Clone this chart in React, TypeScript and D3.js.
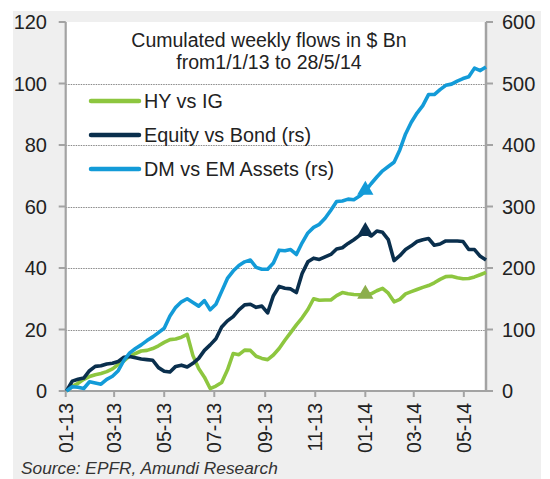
import * as d3 from "d3";
import { useEffect, useRef } from "react";

// weekly EPFR dates: first Wednesday of 2013, one point per week
const startWeek = new Date(2013, 0, 2);

const hyVsIg = [
  0, 1.5, 2.5, 3.8, 4.7, 5.3, 5.7, 6.3, 7.2, 8.6, 9.8, 11.4, 12.2, 13, 13.2,
  13.8, 14.7, 15.8, 16.7, 16.9, 17.5, 18.4, 11.5, 7.3, 4.5, 0.8, 1.6, 2.8, 6.8,
  12.2, 11.8, 13.3, 13.2, 11.3, 10.6, 10.2, 11.7, 13.8, 16.5, 19, 21.5, 23.8,
  26.5, 30, 29.5, 29.6, 29.6, 31, 32, 31.6, 31.4, 31.3, 31.2, 31.6, 32.6, 33.4,
  31.8, 29, 29.8, 31.6, 32.3, 33, 33.7, 34.3, 35.2, 36.3, 37.2, 37.3, 36.8,
  36.5, 36.6, 37.1, 37.8, 38.6,
];

const equityVsBond = [
  0, 16, 19, 21, 33, 40, 41, 44, 45, 48, 55, 56, 54, 52, 51, 50, 38, 32, 31, 40,
  42, 39, 45, 53, 66, 75, 85, 104, 114, 121, 132, 140, 141, 136, 138, 127, 155,
  170, 167, 166, 160, 191, 210, 216, 214, 218, 222, 231, 233, 240, 246, 253,
  258, 252, 260, 258, 246, 212, 220, 230, 236, 243, 246, 248, 237, 239, 244,
  244, 244, 243, 230, 230, 219, 213,
];

const dmVsEm = [
  0, 7, 6, 4, 15, 13, 11, 19, 24, 33, 50, 62, 69, 75, 82, 88, 95, 102, 122, 136,
  145, 150, 144, 138, 147, 132, 141, 162, 183, 195, 204, 210, 213, 201, 198, 198,
  208, 229, 228, 230, 222, 241, 257, 266, 271, 281, 294, 308, 309, 312, 311, 317,
  325, 337, 348, 358, 365, 372, 392, 418, 437, 452, 464, 482, 482, 490, 497, 499,
  504, 508, 511, 525, 521, 527,
];

const markerWeek = 52; // 1/1/14

const leftTicks = [0, 20, 40, 60, 80, 100, 120];
const rightTicks = [0, 100, 200, 300, 400, 500, 600];
const monthTicks = [
  "2013-01-01", "2013-03-01", "2013-05-01", "2013-07-01", "2013-09-01",
  "2013-11-01", "2014-01-01", "2014-03-01", "2014-05-01",
];

const seriesNames = ["HY vs IG", "Equity vs Bond (rs)", "DM vs EM Assets (rs)"];
const seriesColors = ["#8dc63f", "#0a2f4d", "#139bd8"];
const markerColors = ["#8cae4c", "#0a2f4d", "#139bd8"];

const App = () => {
  const svgRef = useRef<SVGSVGElement>(null);
  const width = 550;
  const height = 479;

  useEffect(() => {
    const margin = { top: 22, left: 65.7, right: 64, bottom: 88 };
    const svg = d3.select(svgRef.current);
    svg.selectAll("*").remove();

    const font = "Liberation Sans, Arial, sans-serif";
    const parse = d3.timeParse("%Y-%m-%d");

    // background panel
    svg.append("rect").attr("width", width).attr("height", height).attr("fill", "#fff");
    svg
      .append("rect")
      .attr("x", 13)
      .attr("y", 11)
      .attr("width", 528)
      .attr("height", height)
      .attr("fill", "#efefef");

    const x = d3
      .scaleTime()
      .domain([new Date(2013, 0, 1), new Date(2014, 4, 28)])
      .range([margin.left, width - margin.right]);
    const yL = d3.scaleLinear().domain([0, 120]).range([height - margin.bottom, margin.top]);
    const yR = d3.scaleLinear().domain([0, 600]).range([height - margin.bottom, margin.top]);

    const x0 = margin.left;
    const x1 = width - margin.right;
    const y0 = height - margin.bottom;

    svg
      .append("rect")
      .attr("x", x0)
      .attr("y", margin.top)
      .attr("width", x1 - x0)
      .attr("height", y0 - margin.top)
      .attr("fill", "#fff");

    // grid
    svg
      .selectAll(".grid")
      .data(leftTicks.filter((d) => d > 0 && d < 120))
      .join("line")
      .attr("x1", x0)
      .attr("x2", x1)
      .attr("y1", (d) => Math.round(yL(d)) + 0.5)
      .attr("y2", (d) => Math.round(yL(d)) + 0.5)
      .attr("stroke", "#8a8a8a")
      .attr("stroke-width", 1)
      .attr("stroke-dasharray", "1.5,1");

    const axisColor = "#a3a3a3";
    // axis lines
    svg.append("line").attr("x1", x0).attr("x2", x0).attr("y1", margin.top).attr("y2", y0)
      .attr("stroke", axisColor).attr("stroke-width", 2.2);
    svg.append("line").attr("x1", x1).attr("x2", x1).attr("y1", margin.top).attr("y2", y0)
      .attr("stroke", axisColor).attr("stroke-width", 2.5);
    svg.append("line").attr("x1", x0).attr("x2", x1).attr("y1", y0).attr("y2", y0)
      .attr("stroke", axisColor).attr("stroke-width", 2.2);

    // left ticks + labels
    svg.selectAll(".lt").data(leftTicks).join("line")
      .attr("x1", x0 - 7).attr("x2", x0)
      .attr("y1", (d) => yL(d)).attr("y2", (d) => yL(d))
      .attr("stroke", axisColor).attr("stroke-width", 2);
    svg.selectAll(".ll").data(leftTicks).join("text")
      .attr("x", 47).attr("y", (d) => yL(d)).attr("dy", "0.36em")
      .attr("text-anchor", "end").attr("font-family", font).attr("font-size", 20)
      .attr("fill", "#222").text((d) => d);

    // right ticks + labels
    svg.selectAll(".rt").data(rightTicks).join("line")
      .attr("x1", x1).attr("x2", x1 + 7)
      .attr("y1", (d) => yR(d)).attr("y2", (d) => yR(d))
      .attr("stroke", axisColor).attr("stroke-width", 2);
    svg.selectAll(".rl").data(rightTicks).join("text")
      .attr("x", 502).attr("y", (d) => yR(d)).attr("dy", "0.36em")
      .attr("text-anchor", "start").attr("font-family", font).attr("font-size", 20)
      .attr("fill", "#222").text((d) => d);

    // bottom ticks + rotated labels
    const fmt = d3.timeFormat("%m-%y");
    svg.selectAll(".bt").data(monthTicks).join("line")
      .attr("x1", (d) => x(parse(d)!)).attr("x2", (d) => x(parse(d)!))
      .attr("y1", y0).attr("y2", y0 + 6)
      .attr("stroke", axisColor).attr("stroke-width", 2);
    svg.selectAll(".bl").data(monthTicks).join("text")
      .attr("transform", (d) => `translate(${x(parse(d)!)},403) rotate(-90)`)
      .attr("dy", "0.36em")
      .attr("text-anchor", "end").attr("font-family", font).attr("font-size", 19.5)
      .attr("fill", "#222").text((d) => fmt(parse(d)!));

    // series
    const dates = hyVsIg.map((_, i) => d3.timeDay.offset(startWeek, i * 7));
    const series = [
      { values: hyVsIg, y: yL },
      { values: equityVsBond, y: yR },
      { values: dmVsEm, y: yR },
    ];
    series.forEach((s, k) => {
      const line = d3
        .line<number>()
        .x((_, i) => x(dates[i]))
        .y((d) => s.y(d));
      svg.append("path")
        .attr("d", line(s.values))
        .attr("fill", "none")
        .attr("stroke", seriesColors[k])
        .attr("stroke-width", 3.6)
        .attr("stroke-linejoin", "round");
    });

    // markers at 1/1/14
    series.forEach((s, k) => {
      svg.append("path")
        .attr("d", d3.symbol(d3.symbolTriangle, 115)())
        .attr("transform", `translate(${x(dates[markerWeek])},${s.y(s.values[markerWeek]) - 1})`)
        .attr("fill", markerColors[k]);
    });

    // title
    const title = svg.append("text").attr("text-anchor", "middle")
      .attr("font-family", font).attr("font-size", 19.5).attr("fill", "#222");
    title.append("tspan").attr("x", 269).attr("y", 47).text("Cumulated weekly flows in $ Bn");
    title.append("tspan").attr("x", 269).attr("y", 68.5).text("from1/1/13 to 28/5/14");

    // legend
    const legend = svg.selectAll(".lg").data(seriesNames).join("g")
      .attr("transform", (_, i) => `translate(0,${101 + i * 34})`);
    legend.append("line").attr("x1", 91).attr("x2", 139).attr("y1", 0).attr("y2", 0)
      .attr("stroke", (_, i) => seriesColors[i]).attr("stroke-width", 4.5)
      .attr("stroke-linecap", "round");
    legend.append("text").attr("x", 144).attr("y", 0).attr("dy", "0.36em")
      .attr("font-family", font).attr("font-size", 19.8).attr("fill", "#222")
      .text((d) => d);

    // source
    svg.append("text").attr("x", 21).attr("y", 474)
      .attr("font-family", font).attr("font-size", 17.3).attr("font-style", "italic")
      .attr("fill", "#333").text("Source: EPFR, Amundi Research");
  }, []);

  return (
    <svg
      ref={svgRef}
      width={width}
      height={height}
      style={{ position: "absolute", left: 0, top: 0, display: "block" }}
    ></svg>
  );
};

export default App;
